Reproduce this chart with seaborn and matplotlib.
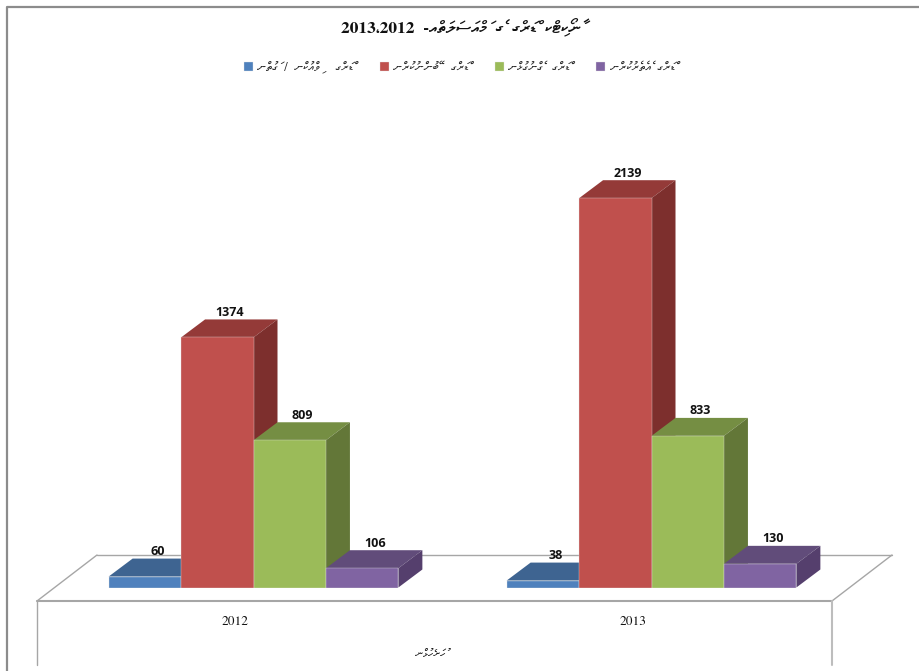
import re
import matplotlib
matplotlib.use("Agg")
import matplotlib.pyplot as plt
from matplotlib.lines import Line2D
from matplotlib.patches import Polygon
from matplotlib.transforms import Affine2D, ScaledTranslation
import pandas as pd
import seaborn as sns

years = ["2012", "2013"]
selling = [60, 38]
use = [1374, 2139]
possession = [809, 833]
importing = [106, 130]

# Dhivehi text, logical order. Small text is blurry in the source so this is a best reading
type_names = ["ޑްރަގް     ވިއްކުން  /  ގަތުން", "ޑްރަގް    ބޭނުންކުރުން", "ޑްރަގް   ގެންގުޅުން", "ޑްރަގް  އެތެރެކުރުން"]
title_text = "ނާކޯޓިކް  ޑްރަގް  ގެ  މައްސަލަތައް"
title_years = "2013،2012"
axis_name = "ހުށަހެޅުން"

front = ["#4F81BD", "#C0504D", "#9BBB59", "#8064A2"]
top = ["#3E6491", "#943A38", "#758E43", "#614C7A"]
side = ["#345578", "#7D2F2D", "#637738", "#553F6D"]


def rtl(s):
    # matplotlib has no bidi, so put the letters in drawing order, vowels stay after their letter
    return "".join(reversed(re.findall(r".[\u07A6-\u07B0]*", s)))


W, H = 919, 671
px_per_unit = 0.182
base_y = 587.5
top_y = 60
depth_x, depth_y = 24, 18

sns.set_theme(style="white")
plt.rcParams["font.family"] = ["FreeSerif", "Noto Sans Thaana", "Liberation Serif", "DejaVu Sans"]

labels = [rtl(n) for n in type_names]
df = pd.DataFrame({
    "year": years * 4,
    "kind": [labels[i] for i in range(4) for _ in years],
    "count": selling + use + possession + importing,
})

fig = plt.figure(figsize=(W / 100, H / 100), dpi=100)
ax = fig.add_axes([54.5 / W, 1 - base_y / H, 796 / W, (base_y - top_y) / H])

sns.barplot(data=df, x="year", y="count", hue="kind", palette=front, saturation=1,
            width=0.728, gap=0, errorbar=None, ax=ax, edgecolor="#e4e4e4", linewidth=0.25)

ax.set_xlim(-0.5, 1.5)
ax.set_ylim(0, (base_y - top_y) / px_per_unit)
dx = depth_x / (796 / 2)
dy = depth_y / px_per_unit

# fake the 3d look: every bar gets a top and a side, later bars cover earlier ones
for i, cont in enumerate(ax.containers):
    for bar, val in zip(cont.patches, df["count"][i * 2:i * 2 + 2]):
        x0, x1 = bar.get_x(), bar.get_x() + bar.get_width()
        z = 3 + i
        bar.set_zorder(z + 0.2)
        ax.add_patch(Polygon([(x0, val), (x1, val), (x1 + dx, val + dy), (x0 + dx, val + dy)],
                             fc=top[i], ec="none", zorder=z, clip_on=False))
        ax.add_patch(Polygon([(x1, 0), (x1 + dx, dy), (x1 + dx, val + dy), (x1, val)],
                             fc=side[i], ec="none", zorder=z, clip_on=False))
        ax.annotate(str(val), ((x0 + x1) / 2 + dx / 2, val + dy), xytext=(0.5, 0.5), textcoords="offset points",
                    ha="center", va="bottom", fontsize=9, fontweight="bold", family="Open Sans",
                    color="#111111", zorder=20)

for s in ax.spines.values():
    s.set_visible(False)
ax.set_yticks([])
ax.set_ylabel("")
ax.patch.set_alpha(0)
ax.tick_params(axis="x", length=0, pad=21, labelsize=9.5, colors="#111111")
shift = ScaledTranslation(-18 / 100, 0, fig.dpi_scale_trans)
for lab in ax.get_xticklabels():
    lab.set_transform(lab.get_transform() + shift)

ax.set_xlabel(rtl(axis_name), fontsize=8, color="#111111")
ax.xaxis.set_label_coords((430 - 54.5) / 796, -(649 - base_y) / (base_y - top_y), transform=ax.transAxes)

sns.move_legend(ax, "center left", bbox_to_anchor=(244 / W, 1 - 68 / H), bbox_transform=fig.transFigure,
                ncol=4, title=None, frameon=False, fontsize=9, handlelength=0.72, handleheight=0.72,
                handletextpad=0.36, columnspacing=2.1, borderpad=0, borderaxespad=0)

fig.text(461 / W, 1 - 28 / H, title_years + "  -" + rtl(title_text), ha="center", va="center",
         fontsize=12.5, fontweight="bold", color="#111111")

# frame and floor are page furniture, given in pixels from the top left
page = Affine2D().scale(1 / W, -1 / H).translate(0, 1) + fig.transFigure
furniture = [
    ([6.5, 6.5, 919], [671, 6.5, 6.5], "#8C8C8C", 1.6),
    ([97, 37], [555, 601], "#A6A6A6", 1),
    ([97, 892], [555, 555], "#A6A6A6", 1),
    ([892, 832], [555, 601], "#A6A6A6", 1),
    ([37, 832], [601, 601], "#A6A6A6", 1.5),
    ([37, 37], [601, 665], "#A6A6A6", 1),
    ([832, 832], [601, 665], "#BDBDBD", 1.5),
]
for xs, ys, col, lw in furniture:
    line = Line2D(xs, ys, transform=page, color=col, lw=lw, zorder=0)
    fig.add_artist(line)
ax.set_zorder(2)

fig.savefig("out.png", dpi=100)
